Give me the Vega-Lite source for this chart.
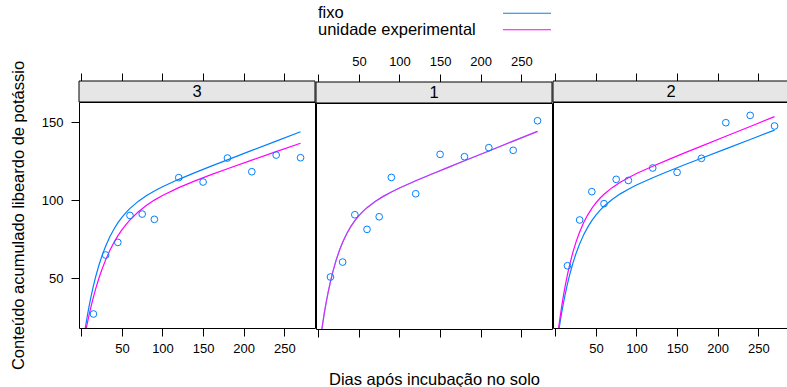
{
  "$schema": "https://vega.github.io/schema/vega-lite/v6.json",
  "padding": {"left": 9, "top": 5, "right": 0, "bottom": 0},
  "config": {
    "font": "Liberation Sans",
    "view": {"stroke": null},
    "axis": {"domain": false, "grid": false, "tickColor": "black", "labelColor": "black", "titleColor": "black", "labelFont": "Liberation Sans", "titleFont": "Liberation Sans", "labelFontSize": 13, "titleFontSize": 16.5, "titleFontWeight": "normal", "tickSize": 8}
  },
  "datasets": {
    "obs": [
      {"painel": "3", "dias": 15, "K": 26.9}, {"painel": "3", "dias": 30, "K": 64.8}, {"painel": "3", "dias": 45, "K": 72.9}, {"painel": "3", "dias": 60, "K": 90.2}, {"painel": "3", "dias": 75, "K": 91.1}, {"painel": "3", "dias": 90, "K": 87.7}, {"painel": "3", "dias": 120, "K": 114.5}, {"painel": "3", "dias": 150, "K": 111.7}, {"painel": "3", "dias": 180, "K": 127.1}, {"painel": "3", "dias": 210, "K": 118.3}, {"painel": "3", "dias": 240, "K": 129.0}, {"painel": "3", "dias": 270, "K": 127.3},
      {"painel": "1", "dias": 15, "K": 51.3}, {"painel": "1", "dias": 30, "K": 60.9}, {"painel": "1", "dias": 45, "K": 91.3}, {"painel": "1", "dias": 60, "K": 81.9}, {"painel": "1", "dias": 75, "K": 90.0}, {"painel": "1", "dias": 90, "K": 115.3}, {"painel": "1", "dias": 120, "K": 104.8}, {"painel": "1", "dias": 150, "K": 130.1}, {"painel": "1", "dias": 180, "K": 128.6}, {"painel": "1", "dias": 210, "K": 134.4}, {"painel": "1", "dias": 240, "K": 132.7}, {"painel": "1", "dias": 270, "K": 151.7},
      {"painel": "2", "dias": 15, "K": 57.9}, {"painel": "2", "dias": 30, "K": 87.3}, {"painel": "2", "dias": 45, "K": 105.5}, {"painel": "2", "dias": 60, "K": 97.8}, {"painel": "2", "dias": 75, "K": 113.4}, {"painel": "2", "dias": 90, "K": 112.7}, {"painel": "2", "dias": 120, "K": 120.7}, {"painel": "2", "dias": 150, "K": 117.9}, {"painel": "2", "dias": 180, "K": 126.9}, {"painel": "2", "dias": 210, "K": 149.8}, {"painel": "2", "dias": 240, "K": 154.5}, {"painel": "2", "dias": 270, "K": 147.7}
    ],
    "ajuste": [
      {"painel": "3", "modelo": "fixo", "dias": 3, "K": 11.26}, {"painel": "3", "modelo": "fixo", "dias": 4, "K": 14.71}, {"painel": "3", "modelo": "fixo", "dias": 5, "K": 18.05}, {"painel": "3", "modelo": "fixo", "dias": 6, "K": 21.25}, {"painel": "3", "modelo": "fixo", "dias": 7, "K": 24.32}, {"painel": "3", "modelo": "fixo", "dias": 8, "K": 27.29}, {"painel": "3", "modelo": "fixo", "dias": 10, "K": 32.87}, {"painel": "3", "modelo": "fixo", "dias": 12, "K": 38.03}, {"painel": "3", "modelo": "fixo", "dias": 15, "K": 45.07}, {"painel": "3", "modelo": "fixo", "dias": 18, "K": 51.35}, {"painel": "3", "modelo": "fixo", "dias": 22, "K": 58.68}, {"painel": "3", "modelo": "fixo", "dias": 26, "K": 65.01}, {"painel": "3", "modelo": "fixo", "dias": 30, "K": 70.47}, {"painel": "3", "modelo": "fixo", "dias": 35, "K": 76.31}, {"painel": "3", "modelo": "fixo", "dias": 40, "K": 81.22}, {"painel": "3", "modelo": "fixo", "dias": 45, "K": 85.40}, {"painel": "3", "modelo": "fixo", "dias": 50, "K": 88.98}, {"painel": "3", "modelo": "fixo", "dias": 55, "K": 92.06}, {"painel": "3", "modelo": "fixo", "dias": 60, "K": 94.76}, {"painel": "3", "modelo": "fixo", "dias": 70, "K": 99.24}, {"painel": "3", "modelo": "fixo", "dias": 80, "K": 102.88}, {"painel": "3", "modelo": "fixo", "dias": 90, "K": 105.95}, {"painel": "3", "modelo": "fixo", "dias": 100, "K": 108.65}, {"painel": "3", "modelo": "fixo", "dias": 120, "K": 113.42}, {"painel": "3", "modelo": "fixo", "dias": 140, "K": 117.75}, {"painel": "3", "modelo": "fixo", "dias": 160, "K": 121.89}, {"painel": "3", "modelo": "fixo", "dias": 180, "K": 125.95}, {"painel": "3", "modelo": "fixo", "dias": 210, "K": 131.99}, {"painel": "3", "modelo": "fixo", "dias": 240, "K": 138.0}, {"painel": "3", "modelo": "fixo", "dias": 270, "K": 144.0},
      {"painel": "3", "modelo": "unidade experimental", "dias": 3, "K": 9.08}, {"painel": "3", "modelo": "unidade experimental", "dias": 4, "K": 11.91}, {"painel": "3", "modelo": "unidade experimental", "dias": 5, "K": 14.65}, {"painel": "3", "modelo": "unidade experimental", "dias": 6, "K": 17.32}, {"painel": "3", "modelo": "unidade experimental", "dias": 7, "K": 19.90}, {"painel": "3", "modelo": "unidade experimental", "dias": 8, "K": 22.39}, {"painel": "3", "modelo": "unidade experimental", "dias": 10, "K": 27.16}, {"painel": "3", "modelo": "unidade experimental", "dias": 12, "K": 31.64}, {"painel": "3", "modelo": "unidade experimental", "dias": 15, "K": 37.86}, {"painel": "3", "modelo": "unidade experimental", "dias": 18, "K": 43.52}, {"painel": "3", "modelo": "unidade experimental", "dias": 22, "K": 50.31}, {"painel": "3", "modelo": "unidade experimental", "dias": 26, "K": 56.33}, {"painel": "3", "modelo": "unidade experimental", "dias": 30, "K": 61.67}, {"painel": "3", "modelo": "unidade experimental", "dias": 35, "K": 67.53}, {"painel": "3", "modelo": "unidade experimental", "dias": 40, "K": 72.61}, {"painel": "3", "modelo": "unidade experimental", "dias": 45, "K": 77.05}, {"painel": "3", "modelo": "unidade experimental", "dias": 50, "K": 80.92}, {"painel": "3", "modelo": "unidade experimental", "dias": 55, "K": 84.34}, {"painel": "3", "modelo": "unidade experimental", "dias": 60, "K": 87.36}, {"painel": "3", "modelo": "unidade experimental", "dias": 70, "K": 92.45}, {"painel": "3", "modelo": "unidade experimental", "dias": 80, "K": 96.60}, {"painel": "3", "modelo": "unidade experimental", "dias": 90, "K": 100.07}, {"painel": "3", "modelo": "unidade experimental", "dias": 100, "K": 103.06}, {"painel": "3", "modelo": "unidade experimental", "dias": 120, "K": 108.11}, {"painel": "3", "modelo": "unidade experimental", "dias": 140, "K": 112.44}, {"painel": "3", "modelo": "unidade experimental", "dias": 160, "K": 116.42}, {"painel": "3", "modelo": "unidade experimental", "dias": 180, "K": 120.21}, {"painel": "3", "modelo": "unidade experimental", "dias": 210, "K": 125.73}, {"painel": "3", "modelo": "unidade experimental", "dias": 240, "K": 131.18}, {"painel": "3", "modelo": "unidade experimental", "dias": 270, "K": 136.6},
      {"painel": "1", "modelo": "fixo", "dias": 3, "K": 12.46}, {"painel": "1", "modelo": "fixo", "dias": 4, "K": 16.25}, {"painel": "1", "modelo": "fixo", "dias": 5, "K": 19.87}, {"painel": "1", "modelo": "fixo", "dias": 6, "K": 23.33}, {"painel": "1", "modelo": "fixo", "dias": 7, "K": 26.64}, {"painel": "1", "modelo": "fixo", "dias": 8, "K": 29.81}, {"painel": "1", "modelo": "fixo", "dias": 10, "K": 35.72}, {"painel": "1", "modelo": "fixo", "dias": 12, "K": 41.14}, {"painel": "1", "modelo": "fixo", "dias": 15, "K": 48.41}, {"painel": "1", "modelo": "fixo", "dias": 18, "K": 54.80}, {"painel": "1", "modelo": "fixo", "dias": 22, "K": 62.14}, {"painel": "1", "modelo": "fixo", "dias": 26, "K": 68.34}, {"painel": "1", "modelo": "fixo", "dias": 30, "K": 73.61}, {"painel": "1", "modelo": "fixo", "dias": 35, "K": 79.11}, {"painel": "1", "modelo": "fixo", "dias": 40, "K": 83.67}, {"painel": "1", "modelo": "fixo", "dias": 45, "K": 87.48}, {"painel": "1", "modelo": "fixo", "dias": 50, "K": 90.70}, {"painel": "1", "modelo": "fixo", "dias": 55, "K": 93.45}, {"painel": "1", "modelo": "fixo", "dias": 60, "K": 95.85}, {"painel": "1", "modelo": "fixo", "dias": 70, "K": 99.84}, {"painel": "1", "modelo": "fixo", "dias": 80, "K": 103.10}, {"painel": "1", "modelo": "fixo", "dias": 90, "K": 105.93}, {"painel": "1", "modelo": "fixo", "dias": 100, "K": 108.48}, {"painel": "1", "modelo": "fixo", "dias": 120, "K": 113.12}, {"painel": "1", "modelo": "fixo", "dias": 140, "K": 117.49}, {"painel": "1", "modelo": "fixo", "dias": 160, "K": 121.76}, {"painel": "1", "modelo": "fixo", "dias": 180, "K": 125.99}, {"painel": "1", "modelo": "fixo", "dias": 210, "K": 132.3}, {"painel": "1", "modelo": "fixo", "dias": 240, "K": 138.6}, {"painel": "1", "modelo": "fixo", "dias": 270, "K": 144.9},
      {"painel": "1", "modelo": "unidade experimental", "dias": 3, "K": 12.46}, {"painel": "1", "modelo": "unidade experimental", "dias": 4, "K": 16.25}, {"painel": "1", "modelo": "unidade experimental", "dias": 5, "K": 19.87}, {"painel": "1", "modelo": "unidade experimental", "dias": 6, "K": 23.33}, {"painel": "1", "modelo": "unidade experimental", "dias": 7, "K": 26.64}, {"painel": "1", "modelo": "unidade experimental", "dias": 8, "K": 29.81}, {"painel": "1", "modelo": "unidade experimental", "dias": 10, "K": 35.72}, {"painel": "1", "modelo": "unidade experimental", "dias": 12, "K": 41.14}, {"painel": "1", "modelo": "unidade experimental", "dias": 15, "K": 48.41}, {"painel": "1", "modelo": "unidade experimental", "dias": 18, "K": 54.80}, {"painel": "1", "modelo": "unidade experimental", "dias": 22, "K": 62.14}, {"painel": "1", "modelo": "unidade experimental", "dias": 26, "K": 68.34}, {"painel": "1", "modelo": "unidade experimental", "dias": 30, "K": 73.61}, {"painel": "1", "modelo": "unidade experimental", "dias": 35, "K": 79.11}, {"painel": "1", "modelo": "unidade experimental", "dias": 40, "K": 83.67}, {"painel": "1", "modelo": "unidade experimental", "dias": 45, "K": 87.48}, {"painel": "1", "modelo": "unidade experimental", "dias": 50, "K": 90.70}, {"painel": "1", "modelo": "unidade experimental", "dias": 55, "K": 93.45}, {"painel": "1", "modelo": "unidade experimental", "dias": 60, "K": 95.85}, {"painel": "1", "modelo": "unidade experimental", "dias": 70, "K": 99.84}, {"painel": "1", "modelo": "unidade experimental", "dias": 80, "K": 103.10}, {"painel": "1", "modelo": "unidade experimental", "dias": 90, "K": 105.93}, {"painel": "1", "modelo": "unidade experimental", "dias": 100, "K": 108.48}, {"painel": "1", "modelo": "unidade experimental", "dias": 120, "K": 113.12}, {"painel": "1", "modelo": "unidade experimental", "dias": 140, "K": 117.49}, {"painel": "1", "modelo": "unidade experimental", "dias": 160, "K": 121.76}, {"painel": "1", "modelo": "unidade experimental", "dias": 180, "K": 125.99}, {"painel": "1", "modelo": "unidade experimental", "dias": 210, "K": 132.3}, {"painel": "1", "modelo": "unidade experimental", "dias": 240, "K": 138.6}, {"painel": "1", "modelo": "unidade experimental", "dias": 270, "K": 144.9},
      {"painel": "2", "modelo": "fixo", "dias": 3, "K": 11.61}, {"painel": "2", "modelo": "fixo", "dias": 4, "K": 15.18}, {"painel": "2", "modelo": "fixo", "dias": 5, "K": 18.61}, {"painel": "2", "modelo": "fixo", "dias": 6, "K": 21.89}, {"painel": "2", "modelo": "fixo", "dias": 7, "K": 25.05}, {"painel": "2", "modelo": "fixo", "dias": 8, "K": 28.09}, {"painel": "2", "modelo": "fixo", "dias": 10, "K": 33.80}, {"painel": "2", "modelo": "fixo", "dias": 12, "K": 39.08}, {"painel": "2", "modelo": "fixo", "dias": 15, "K": 46.25}, {"painel": "2", "modelo": "fixo", "dias": 18, "K": 52.63}, {"painel": "2", "modelo": "fixo", "dias": 22, "K": 60.06}, {"painel": "2", "modelo": "fixo", "dias": 26, "K": 66.45}, {"painel": "2", "modelo": "fixo", "dias": 30, "K": 71.95}, {"painel": "2", "modelo": "fixo", "dias": 35, "K": 77.80}, {"painel": "2", "modelo": "fixo", "dias": 40, "K": 82.70}, {"painel": "2", "modelo": "fixo", "dias": 45, "K": 86.86}, {"painel": "2", "modelo": "fixo", "dias": 50, "K": 90.40}, {"painel": "2", "modelo": "fixo", "dias": 55, "K": 93.46}, {"painel": "2", "modelo": "fixo", "dias": 60, "K": 96.10}, {"painel": "2", "modelo": "fixo", "dias": 70, "K": 100.51}, {"painel": "2", "modelo": "fixo", "dias": 80, "K": 104.08}, {"painel": "2", "modelo": "fixo", "dias": 90, "K": 107.10}, {"painel": "2", "modelo": "fixo", "dias": 100, "K": 109.76}, {"painel": "2", "modelo": "fixo", "dias": 120, "K": 114.48}, {"painel": "2", "modelo": "fixo", "dias": 140, "K": 118.78}, {"painel": "2", "modelo": "fixo", "dias": 160, "K": 122.91}, {"painel": "2", "modelo": "fixo", "dias": 180, "K": 126.96}, {"painel": "2", "modelo": "fixo", "dias": 210, "K": 132.99}, {"painel": "2", "modelo": "fixo", "dias": 240, "K": 139.0}, {"painel": "2", "modelo": "fixo", "dias": 270, "K": 145.0},
      {"painel": "2", "modelo": "unidade experimental", "dias": 3, "K": 13.39}, {"painel": "2", "modelo": "unidade experimental", "dias": 4, "K": 17.47}, {"painel": "2", "modelo": "unidade experimental", "dias": 5, "K": 21.36}, {"painel": "2", "modelo": "unidade experimental", "dias": 6, "K": 25.09}, {"painel": "2", "modelo": "unidade experimental", "dias": 7, "K": 28.67}, {"painel": "2", "modelo": "unidade experimental", "dias": 8, "K": 32.08}, {"painel": "2", "modelo": "unidade experimental", "dias": 10, "K": 38.48}, {"painel": "2", "modelo": "unidade experimental", "dias": 12, "K": 44.34}, {"painel": "2", "modelo": "unidade experimental", "dias": 15, "K": 52.22}, {"painel": "2", "modelo": "unidade experimental", "dias": 18, "K": 59.16}, {"painel": "2", "modelo": "unidade experimental", "dias": 22, "K": 67.13}, {"painel": "2", "modelo": "unidade experimental", "dias": 26, "K": 73.88}, {"painel": "2", "modelo": "unidade experimental", "dias": 30, "K": 79.62}, {"painel": "2", "modelo": "unidade experimental", "dias": 35, "K": 85.63}, {"painel": "2", "modelo": "unidade experimental", "dias": 40, "K": 90.60}, {"painel": "2", "modelo": "unidade experimental", "dias": 45, "K": 94.75}, {"painel": "2", "modelo": "unidade experimental", "dias": 50, "K": 98.25}, {"painel": "2", "modelo": "unidade experimental", "dias": 55, "K": 101.24}, {"painel": "2", "modelo": "unidade experimental", "dias": 60, "K": 103.82}, {"painel": "2", "modelo": "unidade experimental", "dias": 70, "K": 108.08}, {"painel": "2", "modelo": "unidade experimental", "dias": 80, "K": 111.54}, {"painel": "2", "modelo": "unidade experimental", "dias": 90, "K": 114.48}, {"painel": "2", "modelo": "unidade experimental", "dias": 100, "K": 117.12}, {"painel": "2", "modelo": "unidade experimental", "dias": 120, "K": 121.85}, {"painel": "2", "modelo": "unidade experimental", "dias": 140, "K": 126.26}, {"painel": "2", "modelo": "unidade experimental", "dias": 160, "K": 130.55}, {"painel": "2", "modelo": "unidade experimental", "dias": 180, "K": 134.78}, {"painel": "2", "modelo": "unidade experimental", "dias": 210, "K": 141.1}, {"painel": "2", "modelo": "unidade experimental", "dias": 240, "K": 147.4}, {"painel": "2", "modelo": "unidade experimental", "dias": 270, "K": 153.7}
    ]
  },
  "spacing": -2,
  "hconcat": [
    {
      "spacing": 16,
      "vconcat": [
        {"width": 236, "height": 33, "data": {"values": [{"v": ""}]}, "mark": {"type": "text"}, "encoding": {"text": {"field": "v"}}},
        {
          "spacing": 0,
          "bounds": "flush",
          "vconcat": [
            {
              "width": 236, "height": 21,
              "layer": [
                {"data": {"values": [{"painel": "3"}]}, "mark": {"type": "rect", "fill": "#e6e6e6", "stroke": "black", "strokeWidth": 1}, "encoding": {"x": {"field": "painel", "type": "nominal", "scale": {"paddingInner": 0, "paddingOuter": 0}, "axis": null}}},
                {"data": {"values": [{"painel": "3"}]}, "mark": {"type": "text", "fontSize": 16.5, "color": "black"}, "encoding": {"x": {"field": "painel", "type": "nominal", "axis": null}, "text": {"field": "painel"}}},
                {"data": {"name": "obs"}, "transform": [{"filter": "datum.painel == '3'"}], "mark": {"type": "point", "opacity": 0}, "encoding": {"x": {"field": "dias", "type": "quantitative", "scale": {"domain": [-2.8, 287.8], "nice": false, "zero": false}, "axis": {"orient": "top", "values": [0, 50, 100, 150, 200, 250], "labelExpr": "datum.value == 0 ? '' : datum.label", "labelPadding": 6, "labelOpacity": 0, "title": null}}}}
              ],
              "resolve": {"scale": {"x": "independent"}, "axis": {"x": "independent"}}
            },
            {
              "width": 236, "height": 226,
              "view": {"stroke": "black", "strokeWidth": 1},
              "layer": [
                {"data": {"name": "ajuste"}, "transform": [{"filter": "datum.painel == '3'"}], "mark": {"type": "line", "clip": true, "strokeWidth": 1.2},
                 "encoding": {
                   "x": {"field": "dias", "type": "quantitative", "scale": {"domain": [-2.8, 287.8], "nice": false, "zero": false}, "axis": {"orient": "bottom", "values": [0, 50, 100, 150, 200, 250], "labelExpr": "datum.value == 0 ? '' : datum.label", "labelPadding": 6, "title": null}},
                   "y": {"field": "K", "type": "quantitative", "scale": {"domain": [17.9, 163.1], "nice": false, "zero": false}, "axis": {"values": [50, 100, 150], "labelPadding": 8, "title": "Conteúdo acumulado libeardo de potássio", "titlePadding": 15}},
                   "color": {"field": "modelo", "type": "nominal", "scale": {"domain": ["fixo", "unidade experimental"], "range": ["#0080ff", "#ff00ff"]}, "legend": null},
                   "order": {"field": "dias", "type": "quantitative"}
                 }},
                {"data": {"name": "obs"}, "transform": [{"filter": "datum.painel == '3'"}], "mark": {"type": "point", "shape": "circle", "filled": false, "size": 45, "strokeWidth": 1, "color": "#0080ff", "opacity": 1},
                 "encoding": {
                   "x": {"field": "dias", "type": "quantitative"},
                   "y": {"field": "K", "type": "quantitative"}
                 }}
              ]
            }
          ]
        }
      ]
    },
    {
      "spacing": 16,
      "vconcat": [
        {
          "spacing": 26,
          "hconcat": [
            {"width": 4, "height": 33, "data": {"values": [{"modelo": "fixo"}, {"modelo": "unidade experimental"}]}, "mark": {"type": "text", "align": "left", "fontSize": 16.5, "color": "black"}, "encoding": {"y": {"field": "modelo", "type": "nominal", "sort": ["fixo", "unidade experimental"], "axis": null}, "text": {"field": "modelo"}}},
            {"width": 48, "height": 33, "data": {"values": [{"modelo": "fixo"}, {"modelo": "unidade experimental"}]}, "mark": {"type": "rule", "strokeWidth": 1.2}, "encoding": {"y": {"field": "modelo", "type": "nominal", "sort": ["fixo", "unidade experimental"], "axis": null}, "color": {"field": "modelo", "type": "nominal", "scale": {"domain": ["fixo", "unidade experimental"], "range": ["#0080ff", "#ff00ff"]}, "legend": null}}}
          ]
        },
        {
          "spacing": 0,
          "bounds": "flush",
          "vconcat": [
            {
              "width": 236, "height": 21,
              "layer": [
                {"data": {"values": [{"painel": "1"}]}, "mark": {"type": "rect", "fill": "#e6e6e6", "stroke": "black", "strokeWidth": 1}, "encoding": {"x": {"field": "painel", "type": "nominal", "scale": {"paddingInner": 0, "paddingOuter": 0}, "axis": null}}},
                {"data": {"values": [{"painel": "1"}]}, "mark": {"type": "text", "fontSize": 16.5, "color": "black"}, "encoding": {"x": {"field": "painel", "type": "nominal", "axis": null}, "text": {"field": "painel"}}},
                {"data": {"name": "obs"}, "transform": [{"filter": "datum.painel == '1'"}], "mark": {"type": "point", "opacity": 0}, "encoding": {"x": {"field": "dias", "type": "quantitative", "scale": {"domain": [-2.8, 287.8], "nice": false, "zero": false}, "axis": {"orient": "top", "values": [0, 50, 100, 150, 200, 250], "labelExpr": "datum.value == 0 ? '' : datum.label", "labelPadding": 6, "labelOpacity": 1, "title": null}}}}
              ],
              "resolve": {"scale": {"x": "independent"}, "axis": {"x": "independent"}}
            },
            {
              "width": 236, "height": 226,
              "view": {"stroke": "black", "strokeWidth": 1},
              "layer": [
                {"data": {"name": "ajuste"}, "transform": [{"filter": "datum.painel == '1'"}], "mark": {"type": "line", "clip": true, "strokeWidth": 1.2, "opacity": 0.72},
                 "encoding": {
                   "x": {"field": "dias", "type": "quantitative", "scale": {"domain": [-2.8, 287.8], "nice": false, "zero": false}, "axis": {"orient": "bottom", "values": [0, 50, 100, 150, 200, 250], "labelExpr": "datum.value == 0 ? '' : datum.label", "labelPadding": 6, "labelOpacity": 0, "title": "Dias após incubação no solo", "titlePadding": 15}},
                   "y": {"field": "K", "type": "quantitative", "scale": {"domain": [17.9, 163.1], "nice": false, "zero": false}, "axis": null},
                   "color": {"field": "modelo", "type": "nominal", "scale": {"domain": ["fixo", "unidade experimental"], "range": ["#0080ff", "#ff00ff"]}, "legend": null},
                   "order": {"field": "dias", "type": "quantitative"}
                 }},
                {"data": {"name": "obs"}, "transform": [{"filter": "datum.painel == '1'"}], "mark": {"type": "point", "shape": "circle", "filled": false, "size": 45, "strokeWidth": 1, "color": "#0080ff", "opacity": 1},
                 "encoding": {
                   "x": {"field": "dias", "type": "quantitative"},
                   "y": {"field": "K", "type": "quantitative"}
                 }}
              ]
            }
          ]
        }
      ]
    },
    {
      "spacing": 16,
      "vconcat": [
        {"width": 236, "height": 33, "data": {"values": [{"v": ""}]}, "mark": {"type": "text"}, "encoding": {"text": {"field": "v"}}},
        {
          "spacing": 0,
          "bounds": "flush",
          "vconcat": [
            {
              "width": 236, "height": 21,
              "layer": [
                {"data": {"values": [{"painel": "2"}]}, "mark": {"type": "rect", "fill": "#e6e6e6", "stroke": "black", "strokeWidth": 1}, "encoding": {"x": {"field": "painel", "type": "nominal", "scale": {"paddingInner": 0, "paddingOuter": 0}, "axis": null}}},
                {"data": {"values": [{"painel": "2"}]}, "mark": {"type": "text", "fontSize": 16.5, "color": "black"}, "encoding": {"x": {"field": "painel", "type": "nominal", "axis": null}, "text": {"field": "painel"}}},
                {"data": {"name": "obs"}, "transform": [{"filter": "datum.painel == '2'"}], "mark": {"type": "point", "opacity": 0}, "encoding": {"x": {"field": "dias", "type": "quantitative", "scale": {"domain": [-2.8, 287.8], "nice": false, "zero": false}, "axis": {"orient": "top", "values": [0, 50, 100, 150, 200, 250], "labelExpr": "datum.value == 0 ? '' : datum.label", "labelPadding": 6, "labelOpacity": 0, "title": null}}}}
              ],
              "resolve": {"scale": {"x": "independent"}, "axis": {"x": "independent"}}
            },
            {
              "width": 236, "height": 226,
              "view": {"stroke": "black", "strokeWidth": 1},
              "layer": [
                {"data": {"name": "ajuste"}, "transform": [{"filter": "datum.painel == '2'"}], "mark": {"type": "line", "clip": true, "strokeWidth": 1.2},
                 "encoding": {
                   "x": {"field": "dias", "type": "quantitative", "scale": {"domain": [-2.8, 287.8], "nice": false, "zero": false}, "axis": {"orient": "bottom", "values": [0, 50, 100, 150, 200, 250], "labelExpr": "datum.value == 0 ? '' : datum.label", "labelPadding": 6, "title": null}},
                   "y": {"field": "K", "type": "quantitative", "scale": {"domain": [17.9, 163.1], "nice": false, "zero": false}, "axis": null},
                   "color": {"field": "modelo", "type": "nominal", "scale": {"domain": ["fixo", "unidade experimental"], "range": ["#0080ff", "#ff00ff"]}, "legend": null},
                   "order": {"field": "dias", "type": "quantitative"}
                 }},
                {"data": {"name": "obs"}, "transform": [{"filter": "datum.painel == '2'"}], "mark": {"type": "point", "shape": "circle", "filled": false, "size": 45, "strokeWidth": 1, "color": "#0080ff", "opacity": 1},
                 "encoding": {
                   "x": {"field": "dias", "type": "quantitative"},
                   "y": {"field": "K", "type": "quantitative"}
                 }}
              ]
            }
          ]
        }
      ]
    }
  ]
}
